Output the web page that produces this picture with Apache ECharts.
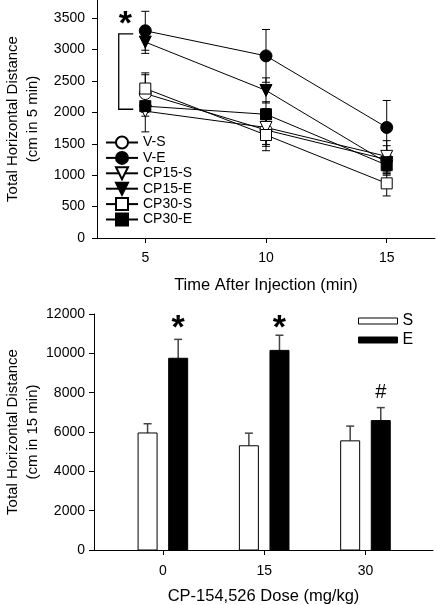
<!DOCTYPE html>
<html>
<head>
<meta charset="utf-8">
<script src="https://cdn.jsdelivr.net/npm/echarts@6/dist/echarts.min.js"></script>
<style>
html,body{margin:0;padding:0;background:#fff;}
#c{width:437px;height:605px;}
</style>
</head>
<body>
<div id="c"></div>
<script>
// ---------- Top panel data ----------
const times = [5, 10, 15];
const timeTicks = [5, 10, 15];
const topYTicks = [0, 500, 1000, 1500, 2000, 2500, 3000, 3500];
const vS = [2300, 1720, 1250];
const vSErr = [300, 230, 220];
const vE = [3300, 2900, 1760];
const vEErr = [310, 420, 430];
const cp15S = [2020, 1760, 1300];
const cp15SErr = [330, 300, 250];
const cp15E = [3120, 2350, 1200];
const cp15EErr = [180, 200, 180];
const cp30S = [2380, 1640, 870];
const cp30SErr = [250, 250, 200];
const cp30E = [2100, 1970, 1160];
const cp30EErr = [160, 200, 160];
const topBracket = { x1: 3.9, x2: 4.5, yTop: 3250, yBottom: 2050 };
const topStar = { x: 4.17, y: 3400, text: '*' };

// ---------- Bottom panel data ----------
const doses = [0, 15, 30];
const doseTicks = [0, 15, 30];
const sMeans = [5950, 5300, 5550];
const sErr = [470, 640, 750];
const eMeans = [9750, 10150, 6580];
const eErr = [960, 770, 660];
const bottomMarks = [[0, 11250, '*'], [15, 11250, '*'], [30, 8000, '#']];

const topSeriesDefs = [
  { name: 'V-S', vals: vS, err: vSErr, symbol: 'circle', fill: '#fff', rot: 0, size: 12 },
  { name: 'V-E', vals: vE, err: vEErr, symbol: 'circle', fill: '#000', rot: 0, size: 12 },
  { name: 'CP15-S', vals: cp15S, err: cp15SErr, symbol: 'triangle', fill: '#fff', rot: 180, size: 12 },
  { name: 'CP15-E', vals: cp15E, err: cp15EErr, symbol: 'triangle', fill: '#000', rot: 180, size: 12 },
  { name: 'CP30-S', vals: cp30S, err: cp30SErr, symbol: 'rect', fill: '#fff', rot: 0, size: 11 },
  { name: 'CP30-E', vals: cp30E, err: cp30EErr, symbol: 'rect', fill: '#000', rot: 0, size: 11 }
];

const chart = echarts.init(document.getElementById('c'), null, { renderer: 'canvas' });

const FONT = '"Liberation Sans", Arial, sans-serif';

const series = [];

// error bars for top panel
const errData = [];
topSeriesDefs.forEach(d => {
  times.forEach((t, i) => errData.push([t, d.vals[i], d.err[i]]));
});
series.push({
  type: 'custom',
  xAxisIndex: 0, yAxisIndex: 0,
  z: 1,
  silent: true,
  data: errData,
  renderItem: function (params, api) {
    const x = api.value(0), y = api.value(1), e = api.value(2);
    const pt = api.coord([x, y + e]);
    const pb = api.coord([x, y - e]);
    const hw = 4;
    const st = { stroke: '#000', lineWidth: 1 };
    return {
      type: 'group',
      children: [
        { type: 'line', shape: { x1: pt[0], y1: pt[1], x2: pb[0], y2: pb[1] }, style: st },
        { type: 'line', shape: { x1: pt[0] - hw, y1: pt[1], x2: pt[0] + hw, y2: pt[1] }, style: st },
        { type: 'line', shape: { x1: pb[0] - hw, y1: pb[1], x2: pb[0] + hw, y2: pb[1] }, style: st }
      ]
    };
  }
});

topSeriesDefs.forEach(d => {
  series.push({
    name: d.name,
    type: 'line',
    xAxisIndex: 0, yAxisIndex: 0,
    z: 3,
    data: times.map((t, i) => [t, d.vals[i]]),
    symbol: d.symbol,
    symbolSize: d.size,
    symbolRotate: d.rot,
    showSymbol: true,
    lineStyle: { color: '#000', width: 1 },
    itemStyle: { color: d.fill, borderColor: '#000', borderWidth: 1 }
  });
});

// bracket + star (top)
series.push({
  type: 'custom',
  xAxisIndex: 0, yAxisIndex: 0,
  z: 4, silent: true,
  data: [[topBracket.x1, topBracket.yTop]],
  renderItem: function (params, api) {
    const a = api.coord([topBracket.x2, topBracket.yTop]);
    const b = api.coord([topBracket.x1, topBracket.yTop]);
    const c = api.coord([topBracket.x1, topBracket.yBottom]);
    const d = api.coord([topBracket.x2, topBracket.yBottom]);
    const s = api.coord([topStar.x, topStar.y]);
    return {
      type: 'group',
      children: [
        { type: 'polyline', shape: { points: [a, b, c, d] }, style: { stroke: '#000', lineWidth: 1.3, fill: null } },
        { type: 'text', x: s[0], y: s[1], style: { text: topStar.text, font: 'bold 34px ' + FONT, fill: '#000', align: 'center', verticalAlign: 'middle' } }
      ]
    };
  }
});

// bottom bars
const BAR_W = 19, OFF = 15.3;
function barSeries(name, means, errs, fill, sign) {
  return {
    name: name,
    type: 'custom',
    xAxisIndex: 1, yAxisIndex: 1,
    z: 2, silent: true,
    itemStyle: { color: fill, borderColor: '#000' },
    data: doses.map((d, i) => [d, means[i], errs[i]]),
    renderItem: function (params, api) {
      const x = api.value(0), v = api.value(1), e = api.value(2);
      const base = api.coord([x, 0]);
      const top = api.coord([x, v]);
      const et = api.coord([x, v + e]);
      const cx = base[0] + sign * OFF;
      return {
        type: 'group',
        children: [
          { type: 'line', shape: { x1: cx, y1: top[1], x2: cx, y2: et[1] }, style: { stroke: '#444', lineWidth: 1.5 } },
          { type: 'line', shape: { x1: cx - 4, y1: et[1], x2: cx + 4, y2: et[1] }, style: { stroke: '#444', lineWidth: 1.5 } },
          { type: 'rect', shape: { x: cx - BAR_W / 2, y: top[1], width: BAR_W, height: base[1] - top[1] }, style: { fill: fill, stroke: '#000', lineWidth: 1 } }
        ]
      };
    }
  };
}
series.push(barSeries('S', sMeans, sErr, '#fff', -1));
series.push(barSeries('E', eMeans, eErr, '#000', 1));

series.push({
  type: 'custom',
  xAxisIndex: 1, yAxisIndex: 1,
  z: 4, silent: true,
  data: bottomMarks,
  renderItem: function (params, api) {
    const p = api.coord([api.value(0), api.value(1)]);
    const t = bottomMarks[params.dataIndex][2];
    const isStar = t === '*';
    return {
      type: 'text', x: p[0] + OFF, y: p[1],
      style: { text: t, font: (isStar ? 'bold 34px ' : '20px ') + FONT, fill: '#000', align: 'center', verticalAlign: 'middle' }
    };
  }
});

const labelStyle = { color: '#000', fontSize: 14, fontFamily: FONT, formatter: v => String(v) };

chart.setOption({
  animation: false,
  backgroundColor: '#fff',
  grid: [
    { left: 97, right: 2, top: 0, bottom: 367, outerBoundsMode: 'none', containLabel: false },
    { left: 94, right: 4, top: 314, bottom: 55, outerBoundsMode: 'none', containLabel: false }
  ],
  xAxis: [
    {
      gridIndex: 0, type: 'value', min: 3, max: 17,
      axisLine: { onZero: false, lineStyle: { color: '#000', width: 1 } },
      axisTick: { show: true, length: 5, customValues: timeTicks, lineStyle: { color: '#000' } },
      axisLabel: Object.assign({ margin: 13, customValues: timeTicks }, labelStyle),
      splitLine: { show: false },
      name: 'Time After Injection (min)', nameLocation: 'middle', nameGap: 39, nameMoveOverlap: false,
      nameTextStyle: { color: '#000', fontSize: 16.5, fontFamily: FONT }
    },
    {
      gridIndex: 1, type: 'value', min: -10.2, max: 40,
      axisLine: { onZero: false, lineStyle: { color: '#000', width: 1 } },
      axisTick: { show: true, length: 5, customValues: doseTicks, lineStyle: { color: '#000' } },
      axisLabel: Object.assign({ margin: 14, customValues: doseTicks }, labelStyle),
      splitLine: { show: false },
      name: 'CP-154,526 Dose (mg/kg)', nameLocation: 'middle', nameGap: 38, nameMoveOverlap: false,
      nameTextStyle: { color: '#000', fontSize: 16.5, fontFamily: FONT }
    }
  ],
  yAxis: [
    {
      gridIndex: 0, type: 'value', min: 0, max: 3790,
      axisLine: { show: true, onZero: false, lineStyle: { color: '#000', width: 1 } },
      axisTick: { show: true, length: 5, customValues: topYTicks, lineStyle: { color: '#000' } },
      axisLabel: Object.assign({ margin: 12, customValues: topYTicks }, labelStyle),
      splitLine: { show: false },
      name: 'Total Horizontal Distance\n(cm in 5 min)', nameLocation: 'middle', nameGap: 54, nameMoveOverlap: false,
      nameTextStyle: { color: '#000', fontSize: 15, lineHeight: 20, fontFamily: FONT }
    },
    {
      gridIndex: 1, type: 'value', min: 0, max: 12000, interval: 2000,
      axisLine: { show: true, onZero: false, lineStyle: { color: '#000', width: 1 } },
      axisTick: { show: true, length: 5, lineStyle: { color: '#000' } },
      axisLabel: Object.assign({ margin: 9 }, labelStyle),
      splitLine: { show: false },
      name: 'Total Horizontal Distance\n(cm in 15 min)', nameLocation: 'middle', nameGap: 51, nameMoveOverlap: false,
      nameTextStyle: { color: '#000', fontSize: 15, lineHeight: 20, fontFamily: FONT }
    }
  ],
  legend: [
    {
      orient: 'vertical', left: 105, top: 135.5, padding: 0,
      itemWidth: 32, itemHeight: 15, itemGap: 1.4,
      textStyle: { color: '#000', fontSize: 14, fontFamily: FONT },
      data: topSeriesDefs.map(d => d.name),
      selectedMode: false
    },
    {
      orient: 'vertical', left: 358, top: 311.5, padding: 0,
      itemWidth: 39, itemHeight: 6, itemGap: 0,
      textStyle: { color: '#000', fontSize: 16, lineHeight: 19, fontFamily: FONT },
      selectedMode: false,
      data: [
        { name: 'S', icon: 'rect', itemStyle: { color: '#fff', borderColor: '#000', borderWidth: 1 } },
        { name: 'E', icon: 'rect', itemStyle: { color: '#000', borderColor: '#000', borderWidth: 1 } }
      ]
    }
  ],
  series: series
});
</script>
</body>
</html>
